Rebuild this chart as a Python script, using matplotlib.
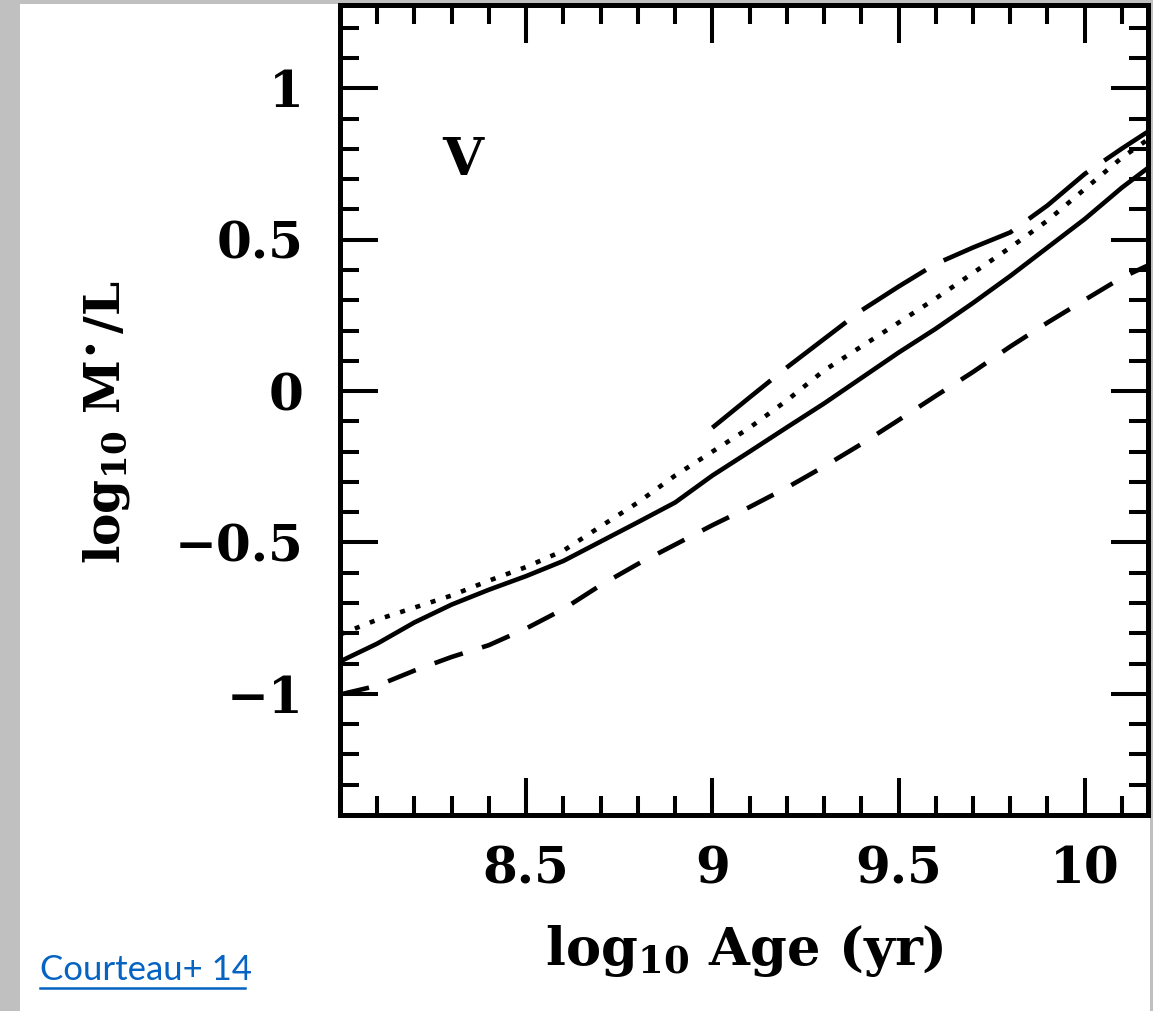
import matplotlib
matplotlib.use("Agg")
import matplotlib.pyplot as plt
from matplotlib.patches import Rectangle
from matplotlib.lines import Line2D
from matplotlib.ticker import MultipleLocator

# ---- data ----
age = [8.0, 8.1, 8.2, 8.3, 8.4, 8.5, 8.6, 8.7, 8.8, 8.9, 9.0, 9.1, 9.2, 9.3,
       9.4, 9.5, 9.6, 9.7, 9.8, 9.9, 10.0, 10.1, 10.17]
ml_solid = [-0.893, -0.834, -0.764, -0.705, -0.656, -0.611, -0.561, -0.497,
            -0.433, -0.368, -0.279, -0.200, -0.120, -0.041, 0.043, 0.127,
            0.206, 0.291, 0.380, 0.474, 0.568, 0.672, 0.737]
ml_dotted = [-0.804, -0.755, -0.715, -0.675, -0.626, -0.581, -0.527, -0.447,
             -0.368, -0.279, -0.200, -0.121, -0.031, 0.068, 0.147, 0.226,
             0.306, 0.390, 0.474, 0.563, 0.667, 0.771, 0.831]
ml_short = [-1.002, -0.973, -0.923, -0.878, -0.839, -0.784, -0.720, -0.641,
            -0.571, -0.507, -0.443, -0.383, -0.319, -0.249, -0.175, -0.096,
            -0.016, 0.063, 0.147, 0.226, 0.301, 0.375, 0.415]
age_long = [9.0, 9.1, 9.2, 9.3, 9.4, 9.5, 9.6, 9.7, 9.8, 9.9, 10.0, 10.1, 10.17]
ml_long = [-0.121, -0.021, 0.078, 0.172, 0.266, 0.345, 0.420, 0.474, 0.524,
           0.613, 0.717, 0.801, 0.857]

xticks = [8.5, 9, 9.5, 10]
xticklabels = ["8.5", "9", "9.5", "10"]
yticks = [-1, -0.5, 0, 0.5, 1]
yticklabels = ["\u22121", "\u22120.5", "0", "0.5", "1"]

W, H = 1153, 1011
plt.rcParams['mathtext.fontset'] = 'dejavuserif'
fig = plt.figure(figsize=(W / 100, H / 100), dpi=100, facecolor='white')

# grey page margins
gray = '#c0c0c0'
fig.patches.append(Rectangle((0, 0), 20 / W, 1, transform=fig.transFigure,
                             facecolor=gray, edgecolor='none', zorder=-10))
fig.patches.append(Rectangle((0, 1 - 4 / H), 1, 4 / H, transform=fig.transFigure,
                             facecolor=gray, edgecolor='none', zorder=-10))
fig.patches.append(Rectangle((1150 / W, 0), 3 / W, 1, transform=fig.transFigure,
                             facecolor=gray, edgecolor='none', zorder=-10))

left, right, top, bottom = 340, 1148, 5, 815
ax = fig.add_axes([left / W, 1 - bottom / H, (right - left) / W, (bottom - top) / H])

lw = 3.3
ax.plot(age, ml_solid, color='black', lw=lw, solid_capstyle='butt')
ax.plot(age, ml_dotted, color='black', lw=lw, linestyle=(0, (1.1, 2.4)),
        dash_capstyle='butt')
ax.plot(age, ml_short, color='black', lw=lw, linestyle=(0, (6.5, 4.4)),
        dash_capstyle='butt')
ax.plot(age_long, ml_long, color='black', lw=lw, linestyle=(0, (16.4, 4.4)),
        dash_capstyle='butt')

ax.set_xlim(8.0, 10.17)
ax.set_ylim(-1.40, 1.275)

font = dict(family='DejaVu Serif', weight='bold')
ax.set_xticks(xticks)
ax.set_xticklabels(xticklabels, fontsize=36, **font)
ax.set_yticks(yticks)
ax.set_yticklabels(yticklabels, fontsize=36, **font)
ax.xaxis.set_minor_locator(MultipleLocator(0.1))
ax.yaxis.set_minor_locator(MultipleLocator(0.1))
ax.tick_params(which='both', direction='in', top=True, right=True, width=2.9,
               color='black')
ax.tick_params(which='major', length=27)
ax.tick_params(which='minor', length=14)
ax.tick_params(axis='x', pad=22)
ax.tick_params(axis='y', pad=26)
for s in ax.spines.values():
    s.set_linewidth(3.6)

ax.set_xlabel(r'log$_{\mathbf{10}}$ Age (yr)', fontsize=38, **font)
ax.xaxis.set_label_coords(0.5, (bottom - 965) / (bottom - top))
ax.xaxis.label.set_va('baseline')
ax.set_ylabel(r'log$_{\mathbf{10}}$ M$^{\!\bullet}$/L', fontsize=35, **font)
ax.yaxis.set_label_coords((106 - left) / (right - left), (bottom - 422) / (bottom - top))
ax.yaxis.label.set_va('center')

ax.text(8.33, 0.76, 'V', fontsize=38, ha='center', va='center', **font)

fig.text(40 / W, 1 - 980 / H, 'Courteau+ 14', color='#0563C1', fontsize=25,
         family='Lato', va='baseline', ha='left')
fig.add_artist(Line2D([40 / W, 245 / W], [1 - 988 / H, 1 - 988 / H],
                      transform=fig.transFigure, color='#0563C1', lw=1.8))

fig.savefig('out.png', dpi=100, facecolor='white')
